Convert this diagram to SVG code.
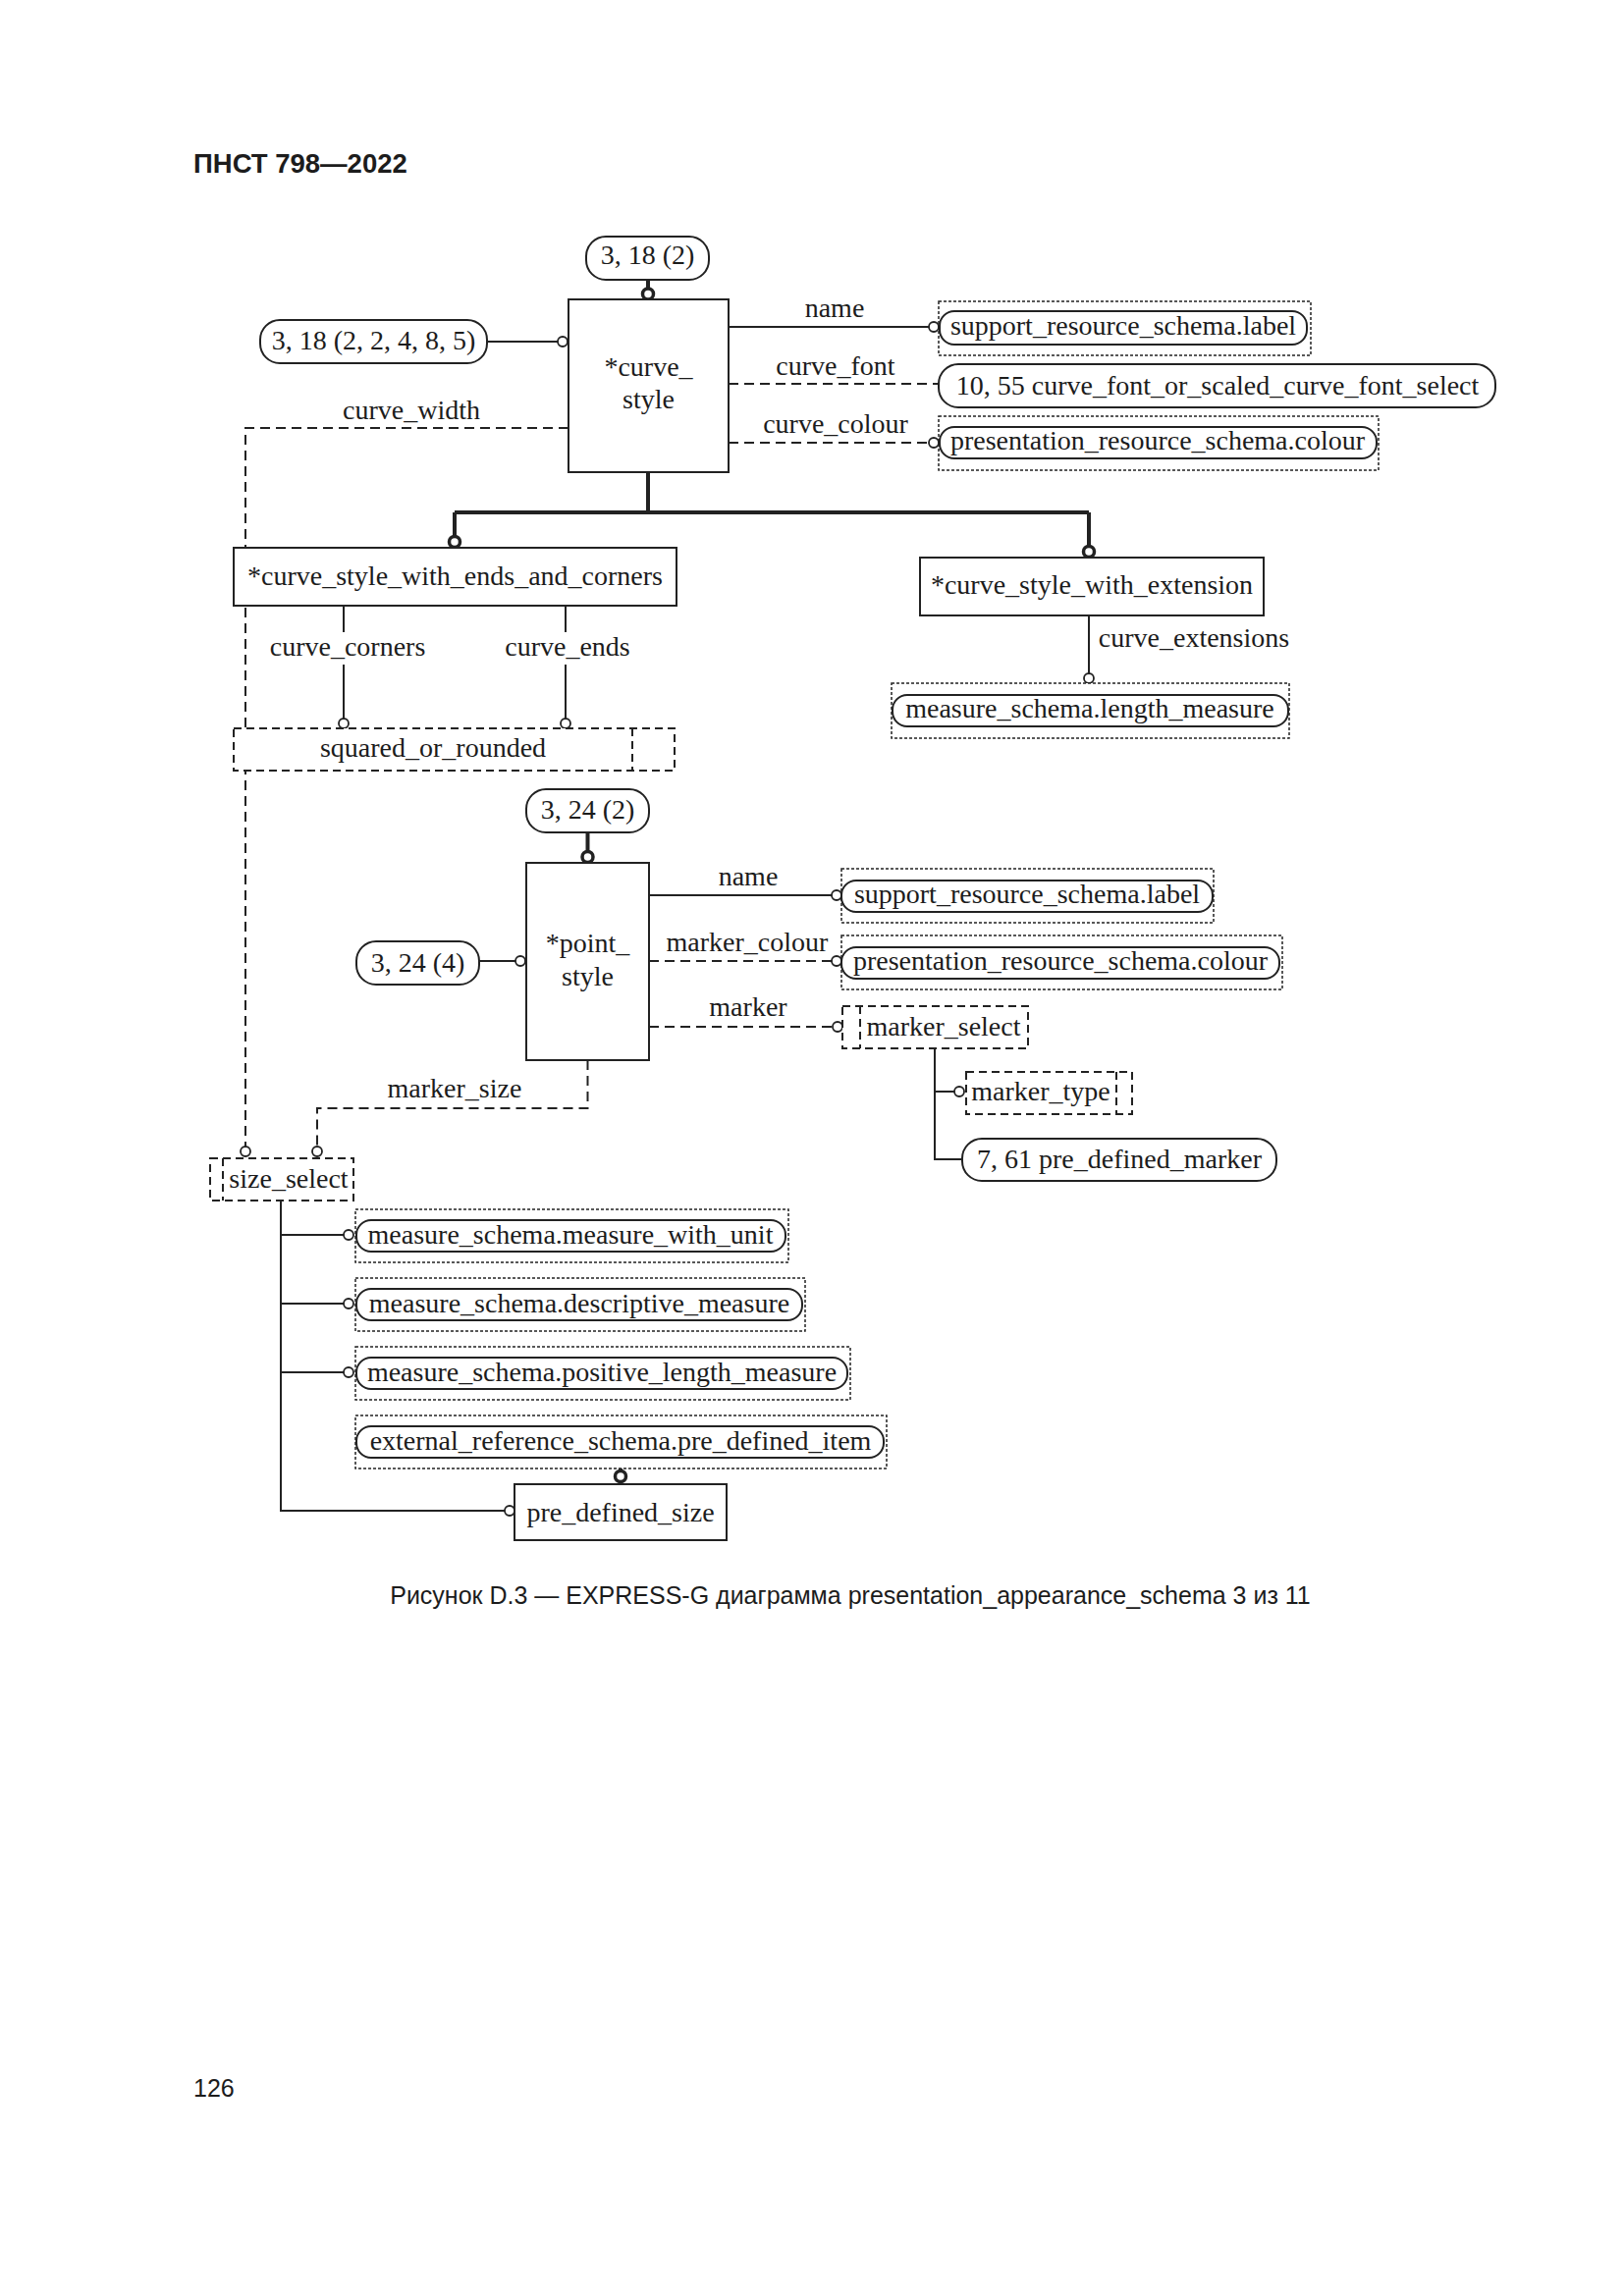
<svg xmlns="http://www.w3.org/2000/svg" width="1654" height="2339" viewBox="0 0 1654 2339">
<style>
.t{font-family:"Liberation Serif","Times New Roman",serif;font-size:28px;fill:#1c1c1c;text-anchor:middle}
.s{font-family:"Liberation Sans",Arial,sans-serif;fill:#1c1c1c}
.box{fill:#fff;stroke:#222;stroke-width:2}
.ov{fill:#fff;stroke:#222;stroke-width:2}
.ext{fill:#fff;stroke:#222;stroke-width:1.5;stroke-dasharray:3 2}
.typ{fill:#fff;stroke:#222;stroke-width:2;stroke-dasharray:8 5}
.tl{fill:none;stroke:#222;stroke-width:2;stroke-dasharray:8 5}
.ln{fill:none;stroke:#222;stroke-width:2}
.dl{fill:none;stroke:#222;stroke-width:2;stroke-dasharray:10 6}
.tk{fill:none;stroke:#222;stroke-width:4}
.c{fill:#fff;stroke:#222;stroke-width:1.8}
.ct{fill:#fff;stroke:#222;stroke-width:3.5}
</style>
<rect width="1654" height="2339" fill="#fff"/>
<text class="s" x="197" y="176" font-size="27.5" font-weight="bold">ПНСТ 798—2022</text>

<g id="connectors">
  <path class="tk" d="M660,285 V294"/>
  <path class="ln" d="M496,348 H568"/>
  <path class="ln" d="M742,333 H946"/>
  <path class="dl" d="M742,391 H956"/>
  <path class="dl" d="M742,451 H946"/>
  <path class="dl" d="M579,436 H250 V1168"/>
  <path class="tk" d="M660,481 V522 M463,522 H1109 M463,522 V546.5 M1109,522 V556.5"/>
  <path class="ln" d="M350,617 V644 M350,677 V732"/>
  <path class="ln" d="M576,617 V644 M576,677 V732"/>
  <path class="ln" d="M1109,627 V686"/>
  <path class="tk" d="M598.5,848 V867.5"/>
  <path class="ln" d="M488,979 H525"/>
  <path class="ln" d="M661,912 H847"/>
  <path class="dl" d="M661,979 H847"/>
  <path class="dl" d="M661,1046 H848"/>
  <path class="dl" d="M598.5,1080 V1129 H323 V1168"/>
  <path class="ln" d="M952,1068 V1181 H980 M952,1112 H972"/>
  <path class="ln" d="M286,1223 V1539 H514 M286,1258 H350 M286,1328 H350 M286,1398 H350"/>
  <path class="tk" d="M632,1496 V1498.5"/>
  <circle class="ct" cx="660" cy="299.5" r="5.5"/>
  <circle class="c" cx="573" cy="348" r="5"/>
  <circle class="c" cx="951" cy="333" r="5"/>
  <circle class="c" cx="951" cy="451" r="5"/>
  <circle class="c" cx="250" cy="1173" r="5"/>
  <circle class="ct" cx="463" cy="552" r="5.5"/>
  <circle class="ct" cx="1109" cy="562" r="5.5"/>
  <circle class="c" cx="350" cy="737" r="5"/>
  <circle class="c" cx="576" cy="737" r="5"/>
  <circle class="c" cx="1109" cy="691" r="5"/>
  <circle class="ct" cx="598.5" cy="873" r="5.5"/>
  <circle class="c" cx="530" cy="979" r="5"/>
  <circle class="c" cx="852" cy="912" r="5"/>
  <circle class="c" cx="852" cy="979" r="5"/>
  <circle class="c" cx="853" cy="1046" r="5"/>
  <circle class="c" cx="323" cy="1173" r="5"/>
  <circle class="c" cx="977" cy="1112" r="5"/>
  <circle class="c" cx="355" cy="1258" r="5"/>
  <circle class="c" cx="355" cy="1328" r="5"/>
  <circle class="c" cx="355" cy="1398" r="5"/>
  <circle class="c" cx="519" cy="1539" r="5"/>
  <circle class="ct" cx="632" cy="1504" r="5.5"/>
  <text class="t" x="850" y="323">name</text>
  <text class="t" x="851" y="382">curve_font</text>
  <text class="t" x="851" y="441">curve_colour</text>
  <text class="t" x="419" y="427">curve_width</text>
  <text class="t" x="354" y="668">curve_corners</text>
  <text class="t" x="578" y="668">curve_ends</text>
  <text class="t" x="1216" y="659">curve_extensions</text>
  <text class="t" x="762" y="902">name</text>
  <text class="t" x="761" y="969">marker_colour</text>
  <text class="t" x="762" y="1035">marker</text>
  <text class="t" x="463" y="1118">marker_size</text>
</g>

<g id="ref_3_18_2">
  <rect class="ov" x="597" y="241" width="125" height="44" rx="20"/>
  <text class="t" x="659.5" y="269">3, 18 (2)</text>
</g>
<g id="ref_3_18_22485">
  <rect class="ov" x="265" y="326" width="231" height="44" rx="20"/>
  <text class="t" x="380.5" y="356">3, 18 (2, 2, 4, 8, 5)</text>
</g>
<g id="curve_style">
  <rect class="box" x="579" y="305" width="163" height="176"/>
  <text class="t" x="660.5" y="383">*curve_</text>
  <text class="t" x="660.5" y="416">style</text>
</g>
<g id="support_label_1">
  <rect class="ext" x="956" y="307" width="379" height="55"/>
  <rect class="ov" x="957" y="317" width="374" height="34" rx="15"/>
  <text class="t" x="1144" y="341">support_resource_schema.label</text>
</g>
<g id="ref_10_55">
  <rect class="ov" x="956" y="371" width="567" height="44" rx="20"/>
  <text class="t" x="1240" y="402">10, 55 curve_font_or_scaled_curve_font_select</text>
</g>
<g id="colour_1">
  <rect class="ext" x="956" y="424" width="448" height="55"/>
  <rect class="ov" x="957" y="435" width="445" height="32" rx="15"/>
  <text class="t" x="1179" y="458">presentation_resource_schema.colour</text>
</g>
<g id="curve_style_with_ends_and_corners">
  <rect class="box" x="238" y="558" width="451" height="59"/>
  <text class="t" x="463.5" y="596">*curve_style_with_ends_and_corners</text>
</g>
<g id="curve_style_with_extension">
  <rect class="box" x="937" y="568" width="350" height="59"/>
  <text class="t" x="1112" y="605">*curve_style_with_extension</text>
</g>
<g id="length_measure">
  <rect class="ext" x="908" y="696" width="405" height="56"/>
  <rect class="ov" x="909" y="708" width="403" height="32" rx="15"/>
  <text class="t" x="1110" y="731">measure_schema.length_measure</text>
</g>
<g id="squared_or_rounded">
  <rect class="typ" x="238" y="742" width="449" height="43"/>
  <path class="tl" d="M644,742 V785"/>
  <text class="t" x="441" y="771">squared_or_rounded</text>
</g>
<g id="ref_3_24_2">
  <rect class="ov" x="536" y="804" width="125" height="44" rx="20"/>
  <text class="t" x="598.5" y="834">3, 24 (2)</text>
</g>
<g id="ref_3_24_4">
  <rect class="ov" x="363" y="959" width="125" height="44" rx="20"/>
  <text class="t" x="425.5" y="990">3, 24 (4)</text>
</g>
<g id="point_style">
  <rect class="box" x="536" y="879" width="125" height="201"/>
  <text class="t" x="598.5" y="970">*point_</text>
  <text class="t" x="598.5" y="1004">style</text>
</g>
<g id="support_label_2">
  <rect class="ext" x="857" y="885" width="379" height="55"/>
  <rect class="ov" x="857" y="897" width="378" height="32" rx="15"/>
  <text class="t" x="1046" y="920">support_resource_schema.label</text>
</g>
<g id="colour_2">
  <rect class="ext" x="857" y="953" width="449" height="55"/>
  <rect class="ov" x="857" y="965" width="446" height="32" rx="15"/>
  <text class="t" x="1080" y="988">presentation_resource_schema.colour</text>
</g>
<g id="marker_select">
  <rect class="typ" x="858" y="1025" width="189" height="43"/>
  <path class="tl" d="M876,1025 V1068"/>
  <text class="t" x="961" y="1055">marker_select</text>
</g>
<g id="marker_type">
  <rect class="typ" x="984" y="1092" width="169" height="43"/>
  <path class="tl" d="M1137,1092 V1135"/>
  <text class="t" x="1060" y="1121">marker_type</text>
</g>
<g id="ref_7_61">
  <rect class="ov" x="980" y="1160" width="320" height="43" rx="20"/>
  <text class="t" x="1140" y="1190">7, 61 pre_defined_marker</text>
</g>
<g id="size_select">
  <rect class="typ" x="214" y="1180" width="146" height="43"/>
  <path class="tl" d="M227,1180 V1223"/>
  <text class="t" x="294" y="1210">size_select</text>
</g>
<g id="measure_with_unit">
  <rect class="ext" x="362" y="1232" width="441" height="54"/>
  <rect class="ov" x="363" y="1243" width="437" height="32" rx="15"/>
  <text class="t" x="581" y="1267">measure_schema.measure_with_unit</text>
</g>
<g id="descriptive_measure">
  <rect class="ext" x="362" y="1302" width="458" height="54"/>
  <rect class="ov" x="363" y="1313" width="454" height="32" rx="15"/>
  <text class="t" x="590" y="1337">measure_schema.descriptive_measure</text>
</g>
<g id="positive_length_measure">
  <rect class="ext" x="362" y="1372" width="504" height="54"/>
  <rect class="ov" x="363" y="1383" width="500" height="32" rx="15"/>
  <text class="t" x="613" y="1407">measure_schema.positive_length_measure</text>
</g>
<g id="pre_defined_item">
  <rect class="ext" x="362" y="1442" width="541" height="54"/>
  <rect class="ov" x="363" y="1453" width="537" height="32" rx="15"/>
  <text class="t" x="632" y="1477">external_reference_schema.pre_defined_item</text>
</g>
<g id="pre_defined_size">
  <rect class="box" x="524" y="1512" width="216" height="57"/>
  <text class="t" x="632" y="1550">pre_defined_size</text>
</g>

<text class="s" x="866" y="1634" font-size="25" text-anchor="middle">Рисунок D.3 — EXPRESS-G диаграмма presentation_appearance_schema 3 из 11</text>
<text class="s" x="197" y="2136" font-size="25">126</text>
</svg>
